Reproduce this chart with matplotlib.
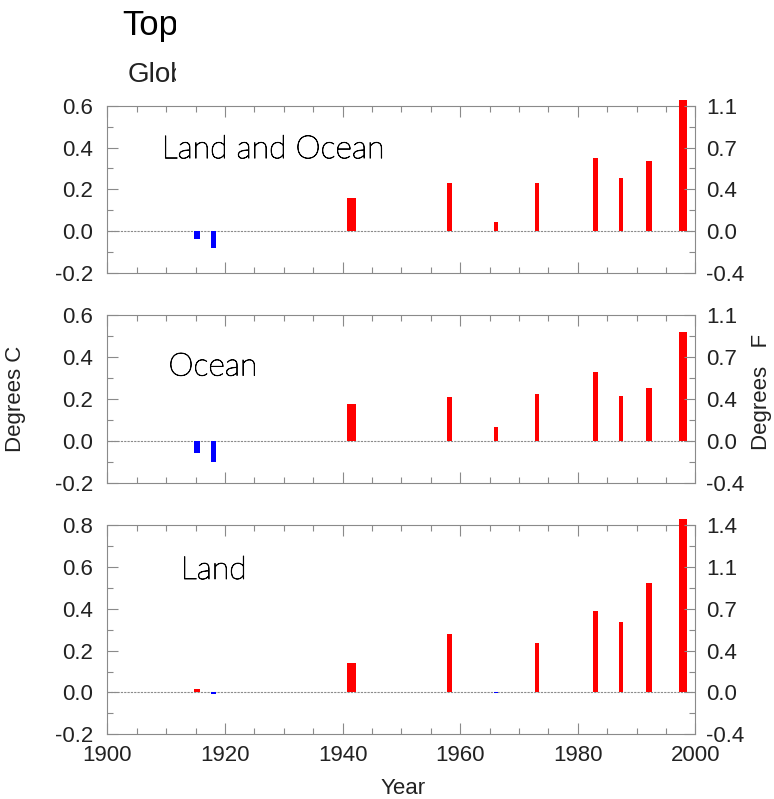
import numpy as np
import matplotlib
matplotlib.use("Agg")
import matplotlib.pyplot as plt
import matplotlib.patheffects as pe
from matplotlib.patches import Rectangle
from matplotlib.ticker import MultipleLocator

plt.rcParams['font.family'] = ['Liberation Sans', 'DejaVu Sans']
plt.rcParams['axes.unicode_minus'] = False

# event years (centre of each bar) and their durations in years
years = [1915.2, 1918.1, 1941.6, 1958.2, 1966.1, 1973.1, 1983.1, 1987.3, 1992.1, 1997.9]
widths = [1.0, 0.85, 1.55, 0.9, 0.8, 0.7, 0.85, 0.7, 0.97, 1.3]

# anomalies, degrees C
land_ocean = [-0.037, -0.080, 0.161, 0.228, 0.043, 0.228, 0.349, 0.254, 0.335, 0.625]
ocean = [-0.057, -0.103, 0.174, 0.208, 0.067, 0.223, 0.330, 0.215, 0.253, 0.519]
land = [0.017, -0.006, 0.140, 0.278, -0.004, 0.235, 0.391, 0.335, 0.525, 0.830]

panel_names = ["Land and Ocean", "Ocean", "Land"]
panel_data = [land_ocean, ocean, land]
panel_ylim = [(-0.2, 0.6), (-0.2, 0.6), (-0.2, 0.8)]
label_pos = [(1909.25, 0.349), (1910.4, 0.311), (1912.5, 0.542)]

W, H = 774, 799
fig = plt.figure(figsize=(W / 100, H / 100), dpi=100)

# axes boxes in pixels: (top, bottom)
boxes = [(105.7, 273.0), (315.0, 482.7), (525.0, 734.3)]
left_px, right_px = 107.3, 695.3

frame_col = '#8a8a8a'
text_col = '#222222'

for i, (top, bot) in enumerate(boxes):
    ax = fig.add_axes([left_px / W, 1 - bot / H, (right_px - left_px) / W, (bot - top) / H])
    vals = panel_data[i]
    cols = ['#ff0000' if v >= 0 else '#0000ff' for v in vals]
    ax.bar(years, vals, width=widths, color=cols, linewidth=0, clip_on=False, zorder=3)
    ax.axhline(0, color=frame_col, lw=0.8, ls=(0, (2, 1)), zorder=2)

    lo, hi = panel_ylim[i]
    ax.set_xlim(1900, 2000)
    ax.set_ylim(lo, hi)
    yt = np.round(np.arange(lo, hi + 0.01, 0.2), 1)
    ax.set_yticks(yt)
    ax.set_yticklabels([f"{v:.1f}" for v in yt])
    ax.yaxis.set_minor_locator(MultipleLocator(0.1))
    ax.xaxis.set_major_locator(MultipleLocator(20))
    ax.xaxis.set_minor_locator(MultipleLocator(5))
    if i < 2:
        ax.set_xticklabels([])

    for sp in ax.spines.values():
        sp.set_color(frame_col)
        sp.set_linewidth(0.8)
        sp.set_linestyle((0, (2, 1)))

    ax.tick_params(which='both', direction='in', top=True, right=False,
                   color=frame_col, width=0.8, labelsize=16, labelcolor=text_col)
    ax.tick_params(which='major', length=8)
    ax.tick_params(which='minor', length=4)
    ax.tick_params(axis='y', pad=10)
    ax.tick_params(axis='x', pad=8)

    # Fahrenheit scale on the right
    ax2 = ax.twinx()
    ax2.set_ylim(lo, hi)
    ax2.set_yticks(yt)
    ax2.set_yticklabels([f"{round(v * 1.8, 1):.1f}" for v in yt])
    ax2.yaxis.set_minor_locator(MultipleLocator(0.1))
    for sp in ax2.spines.values():
        sp.set_visible(False)
    ax2.tick_params(which='both', direction='in', color=frame_col, width=0.8,
                    labelsize=16, labelcolor=text_col, pad=8)
    ax2.tick_params(which='major', length=8)
    ax2.tick_params(which='minor', length=4)

    # thin outline-style panel label
    tx, ty = label_pos[i]
    ax.text(tx, ty, panel_names[i], fontsize=23, family=['Lato', 'DejaVu Sans'],
            fontweight='light', color='black', va='baseline', ha='left', zorder=4,
            path_effects=[pe.withStroke(linewidth=0.6, foreground='black')])

fig.text(16 / W, 1 - 398.5 / H, "Degrees C", rotation=90, ha='center', va='center',
         fontsize=16, color=text_col)
fig.text(762 / W, 1 - 391.5 / H, "Degrees   F", rotation=90, ha='center', va='center',
         fontsize=16, color=text_col)
fig.text(403 / W, 1 - 788 / H, "Year", ha='center', va='center', fontsize=16, color=text_col)

# title, cut off on the right as in the original
fig.text(122 / W, 1 - 35 / H, "Top", fontsize=25, color='black', va='baseline', ha='left')
fig.text(128 / W, 1 - 81.7 / H, "Glob", fontsize=20, color=text_col, va='baseline', ha='left')
fig.patches.append(Rectangle((175.7 / W, 1 - 95 / H), 1, 95 / H, transform=fig.transFigure,
                             facecolor='white', edgecolor='none', zorder=10))

fig.savefig("out.png", dpi=100)
